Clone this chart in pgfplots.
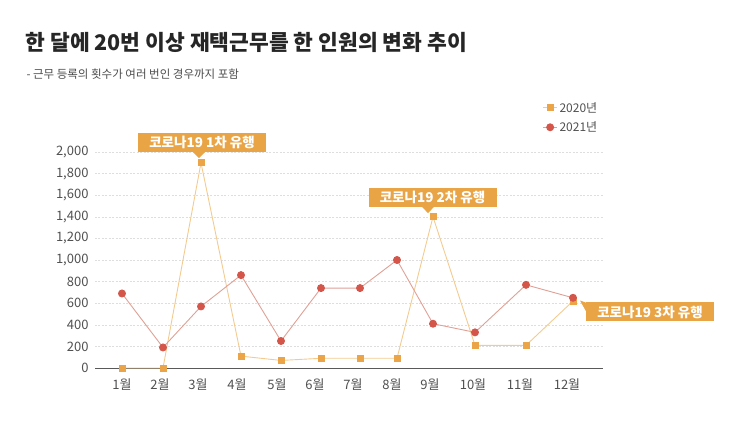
\documentclass[border=0pt]{standalone}
\usepackage{fontspec}
\setmainfont{Noto Sans CJK KR}
\usepackage{pgfplots}
\usepackage{pgfplotstable}
\pgfplotsset{compat=1.18}
\definecolor{c20m}{HTML}{EBA548}
\definecolor{c20l}{HTML}{F3CB8F}
\definecolor{c21m}{HTML}{D4564A}
\definecolor{c21l}{HTML}{DFA095}
\definecolor{boxc}{HTML}{E9A445}
\definecolor{tickc}{HTML}{505050}
\pgfplotstableread{
x y2020 y2021
122 0 690
163 0 190
201 1900 570
241 110 860
281 70 250
321 90 740
360 90 740
397 90 1000
433 1400 410
475 210 330
526 210 770
573 620 650
}\datatab
\begin{document}
\begin{tikzpicture}
\useasboundingbox (0,0) rectangle (745bp,-426bp);
\node[anchor=west,font=\fontsize{21.5bp}{25bp}\selectfont\bfseries,text=black!85] at (22bp,-42bp) {한 달에 20번 이상 재택근무를 한 인원의 변화 추이};
\node[anchor=west,font=\fontsize{11.5bp}{13bp}\selectfont,text=black!70] at (23bp,-74bp) {- 근무 등록의 횟수가 여러 번인 경우까지 포함};
\begin{axis}[
  at={(95bp,-368bp)}, anchor=south west,
  width=508bp, height=216bp, scale only axis,
  xmin=95, xmax=603, ymin=0, ymax=2000,
  clip=false,
  axis x line=bottom, axis y line=left,
  x axis line style={draw=black!65, -},
  y axis line style={draw=none},
  major tick length=0pt,
  ytick={0,200,...,2000},
  xtick={122,160,198,237,277,315,353,392,430,473,520,567},
  xticklabels={1월,2월,3월,4월,5월,6월,7월,8월,9월,10월,11월,12월},
  scaled y ticks=false,
  /pgf/number format/1000 sep={,},
  /pgf/number format/assume math mode=true,
  ymajorgrids,
  grid style={dash pattern=on 2pt off 1.5pt, black!13, line width=0.5pt},
  tick label style={font=\fontsize{13bp}{15bp}\selectfont, text=tickc},
  yticklabel style={xshift=-3bp},
  xticklabel style={yshift=-7bp},
  legend style={at={(axis description cs:0.875,1.25)}, anchor=north west, draw=none, fill=none,
    font=\fontsize{12bp}{14bp}\selectfont, text=tickc, row sep=4bp},
  legend cell align=left,
  legend image code/.code={\draw[#1] (0bp,0bp) -- (14bp,0bp); \draw[#1, only marks] plot coordinates {(7bp,0bp)};},
]
\addplot[c20l, line width=0.9pt, mark=square*, mark size=3bp, mark options={draw=c20m, fill=c20m}] table[x=x,y=y2020]{\datatab};
\addlegendentry{2020년}
\addplot[c21l, line width=0.9pt, mark=*, mark size=3.5bp, mark options={draw=c21m, fill=c21m}] table[x=x,y=y2021]{\datatab};
\addlegendentry{2021년}
% annotation boxes
\fill[boxc] (axis cs:193,2000) -- (axis cs:205,2000) -- (axis cs:199,1944) -- cycle;
\node[fill=boxc, text=white, font=\fontsize{13.5bp}{15bp}\selectfont\bfseries, minimum width=128bp, minimum height=19bp, inner sep=0pt] at (axis cs:202,2088) {코로나19 1차 유행};
\fill[boxc] (axis cs:422,1491) -- (axis cs:434,1491) -- (axis cs:428,1435) -- cycle;
\node[fill=boxc, text=white, font=\fontsize{13.5bp}{15bp}\selectfont\bfseries, minimum width=128bp, minimum height=19bp, inner sep=0pt] at (axis cs:432.5,1579) {코로나19 2차 유행};
\fill[boxc] (axis cs:580,625) -- (axis cs:587,602) -- (axis cs:587,509) -- cycle;
\node[fill=boxc, text=white, font=\fontsize{13.5bp}{15bp}\selectfont\bfseries, minimum width=128bp, minimum height=19bp, inner sep=0pt] at (axis cs:650,519) {코로나19 3차 유행};
\end{axis}
\end{tikzpicture}
\end{document}
